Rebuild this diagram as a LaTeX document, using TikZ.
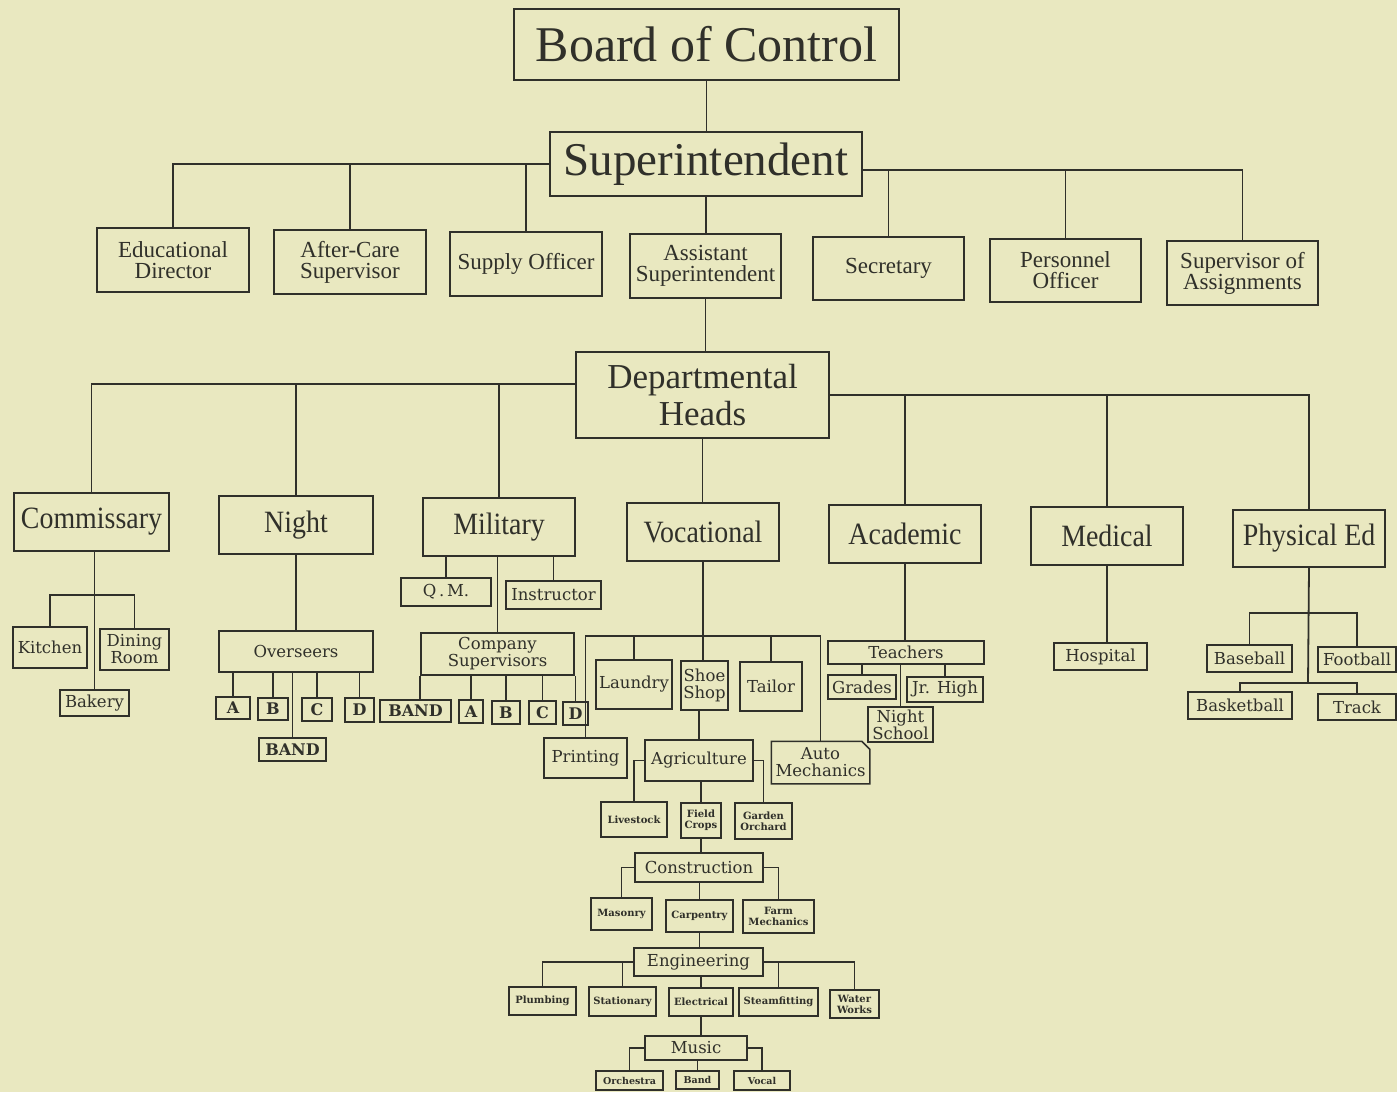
\documentclass[tikz,border=0pt]{standalone}
\usepackage{fontspec}
\setmainfont{Liberation Serif}
\newfontfamily\fwide[FakeStretch=0.9]{Liberation Serif}
\newfontfamily\fdj{DejaVu Serif}
\definecolor{paper}{RGB}{233,232,192}
\definecolor{ink}{RGB}{48,48,42}
\newcommand\bx[7][]{%
  \pgfmathsetmacro\bxw{#5-#3}\pgfmathsetmacro\bxh{#6-#4}%
  \node[box,#1,minimum width=\bxw pt,minimum height=\bxh pt] (#2) at ({(#3+#5)/2},{(#4+#6)/2}) {#7};}
\tikzset{
  box/.style={draw=ink,line width=1.5pt,inner sep=1pt,align=center,text=ink},
  ttop/.style={line width=2.8pt,font=\fontsize{50}{55}\selectfont},
  tsup/.style={line width=2.8pt,font=\fontsize{47}{50}\selectfont},
  tdept/.style={line width=2pt,font=\fontsize{35}{37}\selectfont},
  ltwo/.style={font=\fontsize{23}{21}\selectfont},
  lthree/.style={font=\fwide\fontsize{31}{33}\selectfont},
  lfour/.style={font=\fdj\fontsize{16.5}{17}\selectfont},
  lmid/.style={font=\fdj\fontsize{16.5}{17}\selectfont},
  lsmall/.style={font=\fdj\bfseries\fontsize{10}{11}\selectfont},
  ltiny/.style={font=\fdj\bfseries\fontsize{9.5}{10}\selectfont},
  llet/.style={font=\fdj\bfseries\fontsize{16}{17}\selectfont},
  conn/.style={draw=ink,line width=1.8pt}
}
\begin{document}
\begin{tikzpicture}[x=1pt,y=-1pt]
\fill[paper] (0,0) rectangle (1397,1092);
\useasboundingbox (0,0) rectangle (1397,1092);
% top levels
\bx[ttop]{boc}{514}{9}{899}{80}{Board of Control}
\bx[tsup]{sup}{550}{132}{862}{196}{Superintendent}
\bx[ltwo]{ed}{97}{228}{249}{292}{Educational\\Director}
\bx[ltwo]{ac}{274}{230}{426}{294}{After-Care\\Supervisor}
\bx[ltwo]{so}{450}{232}{602}{296}{Supply Officer}
\bx[ltwo]{as}{630}{234}{781}{298}{Assistant\\Superintendent}
\bx[ltwo]{sec}{813}{237}{964}{300}{Secretary}
\bx[ltwo]{po}{990}{239}{1141}{302}{Personnel\\Officer}
\bx[ltwo]{sa}{1167}{241}{1318}{305}{Supervisor of\\Assignments}
\bx[tdept]{dh}{576}{352}{829}{438}{Departmental\\Heads}
% departments
\bx[lthree]{com}{14}{493}{169}{551}{Commissary}
\bx[lthree]{nig}{219}{496}{373}{554}{Night}
\bx[lthree]{mil}{423}{498}{575}{556}{Military}
\bx[lthree]{voc}{627}{503}{779}{561}{Vocational}
\bx[lthree]{aca}{829}{505}{981}{563}{Academic}
\bx[lthree]{med}{1031}{507}{1183}{565}{Medical}
\bx[lthree]{phy}{1233}{510}{1385}{567}{Physical Ed}
% commissary
\bx[lfour]{kit}{13}{627}{87}{668}{Kitchen}
\bx[lfour]{din}{100}{629}{169}{670}{Dining\\Room}
\bx[lfour]{bak}{60}{690}{129}{716}{Bakery}
% night
\bx[lfour]{ovs}{219}{631}{373}{672}{Overseers}
\bx[llet]{nA}{216}{697}{250}{719}{A}
\bx[llet]{nB}{258}{698}{288}{720}{B}
\bx[llet]{nC}{302}{698}{332}{721}{C}
\bx[llet]{nD}{345}{698}{374}{722}{D}
\bx[llet]{nband}{259}{738}{326}{761}{BAND}
% military
\bx[lfour]{qm}{401}{578}{491}{606}{Q\,.\,M.}
\bx[lfour]{ins}{506}{581}{601}{609}{Instructor}
\bx[lfour]{cs}{421}{633}{574}{675}{Company\\Supervisors}
\bx[llet]{mband}{380}{700}{451}{722}{BAND}
\bx[llet]{mA}{459}{700}{483}{723}{A}
\bx[llet]{mB}{492}{701}{520}{724}{B}
\bx[llet]{mC}{529}{701}{556}{724}{C}
\bx[llet]{mD}{563}{702}{588}{725}{D}
% vocational
\bx[lfour]{laun}{596}{660}{672}{709}{Laundry}
\bx[lfour]{shoe}{681}{661}{728}{710}{Shoe\\Shop}
\bx[lfour]{tail}{740}{662}{802}{711}{Tailor}
\bx[lfour]{prin}{544}{738}{627}{778}{Printing}
\bx[lfour]{agr}{645}{740}{753}{781}{Agriculture}
\bx[lfour,draw=none]{auto}{772}{742}{869}{783}{Auto\\Mechanics}
\draw[ink,line width=1.5pt] (auto.south west) -- (auto.north west) -- ([xshift=-8pt]auto.north east) -- ([yshift=-8pt]auto.north east) -- (auto.south east) -- cycle;
\bx[lsmall]{live}{601}{802}{667}{837}{Livestock}
\bx[lsmall]{fc}{681}{803}{721}{838}{Field\\Crops}
\bx[lsmall]{go}{735}{803}{792}{839}{Garden\\Orchard}
\bx[lmid]{cons}{635}{853}{763}{882}{Construction}
\bx[lsmall]{mas}{591}{898}{652}{930}{Masonry}
\bx[lsmall]{carp}{666}{900}{733}{932}{Carpentry}
\bx[lsmall]{farm}{743}{900}{814}{933}{Farm\\Mechanics}
\bx[lmid]{eng}{634}{948}{763}{976}{Engineering}
\bx[lsmall]{plum}{509}{987}{576}{1015}{Plumbing}
\bx[lsmall]{stat}{589}{987}{656}{1016}{Stationary}
\bx[lsmall]{elec}{669}{988}{733}{1016}{Electrical}
\bx[lsmall]{steam}{739}{988}{818}{1016}{Steamfitting}
\bx[lsmall]{ww}{830}{990}{879}{1018}{Water\\Works}
\bx[lmid]{mus}{645}{1036}{747}{1060}{Music}
\bx[ltiny]{orch}{596}{1071}{663}{1090}{Orchestra}
\bx[ltiny]{bnd}{676}{1071}{719}{1089}{Band}
\bx[ltiny]{vocal}{734}{1071}{790}{1090}{Vocal}
% academic
\bx[lfour]{tea}{828}{641}{984}{664}{Teachers}
\bx[lfour]{gra}{828}{675}{896}{699}{Grades}
\bx[lfour]{jrh}{907}{677}{983}{702}{Jr. High}
\bx[lfour]{nsc}{868}{707}{933}{742}{Night\\School}
% medical
\bx[lfour]{hos}{1054}{643}{1147}{670}{Hospital}
% physical ed
\bx[lfour]{base}{1207}{645}{1292}{672}{Baseball}
\bx[lfour]{foot}{1318}{647}{1396}{672}{Football}
\bx[lfour]{bask}{1188}{692}{1292}{719}{Basketball}
\bx[lfour]{trk}{1318}{694}{1396}{720}{Track}
% helper coordinates
\coordinate (sr) at ([yshift=-6pt]sup.east);
\coordinate (dhl) at ([yshift=11pt]dh.west);
\coordinate (cb) at (94,595);
\coordinate (vb) at (701,636);
\coordinate (pa) at (1308,613);
\coordinate (pb) at (1308,683);
% connectors
\begin{scope}[conn]
\draw (boc.south) -- (boc.south |- sup.north);
\draw (sup.west) -| (ed.north);
\draw (ac.north) -- (ac.north |- sup.west);
\draw (so.north) -- (so.north |- sup.west);
\draw (sr) -| (sa.north);
\draw (sec.north) -- (sec.north |- sr);
\draw (po.north) -- (po.north |- sr);
\draw (sup.south) -- (sup.south |- as.north);
\draw (as.south) -- (as.south |- dh.north);
\draw (dhl) -| (com.north);
\draw (nig.north) -- (nig.north |- dhl);
\draw (mil.north) -- (mil.north |- dhl);
\draw (dh.east) -| (phy.north);
\draw (aca.north) -- (aca.north |- dh.east);
\draw (med.north) -- (med.north |- dh.east);
\draw (dh.south) -- (dh.south |- voc.north);
% commissary
\draw (bak.north) -- (bak.north |- com.south);
\draw (kit.north) |- (cb) -| (din.north);
% night
\draw (nig.south) -- (nig.south |- ovs.north);
\draw (nband.north) -- (nband.north |- ovs.south);
\draw (nA.north) -- (nA.north |- ovs.south);
\draw (nB.north) -- (nB.north |- ovs.south);
\draw (nC.north) -- (nC.north |- ovs.south);
\draw (nD.north) -- (nD.north |- ovs.south);
% military
\draw (cs.north) -- (cs.north |- mil.south);
\draw (qm.north) -- (qm.north |- mil.south);
\draw (ins.north) -- (ins.north |- mil.south);
\draw (mband.north -| cs.west) -- (cs.south west);
\draw (mA.north) -- (mA.north |- cs.south);
\draw (mB.north) -- (mB.north |- cs.south);
\draw (mC.north) -- (mC.north |- cs.south);
\draw (mD.north) -- (mD.north |- cs.south);
% vocational
\draw (voc.south) -- (voc.south |- shoe.north);
\draw (prin.north) |- (auto.north |- vb) -- (auto.north);
\draw (laun.north) -- (laun.north |- vb);
\draw (tail.north) -- (tail.north |- vb);
\draw (agr.north) -- (agr.north |- shoe.south);
\draw (agr.west) -| (live.north);
\draw (agr.east) -| (go.north);
\draw (fc.north) -- (fc.north |- agr.south);
\draw (fc.south) -- (fc.south |- cons.north);
\draw (cons.west) -| (mas.north);
\draw (cons.east) -| (farm.north);
\draw (carp.north) -- (carp.north |- cons.south);
\draw (carp.south) -- (carp.south |- eng.north);
\draw (eng.west) -| (plum.north);
\draw (stat.north) -- (stat.north |- eng.west);
\draw (eng.east) -| (ww.north);
\draw (steam.north) -- (steam.north |- eng.east);
\draw (elec.north) -- (elec.north |- eng.south);
\draw (elec.south) -- (elec.south |- mus.north);
\draw (mus.west) -| (orch.north);
\draw (mus.east) -| (vocal.north);
\draw (bnd.north) -- (bnd.north |- mus.south);
% academic
\draw (aca.south) -- (aca.south |- tea.north);
\draw (gra.north) -- (gra.north |- tea.south);
\draw (jrh.north) -- (jrh.north |- tea.south);
\draw (nsc.north) -- (nsc.north |- tea.south);
% medical
\draw (med.south) -- (med.south |- hos.north);
% physical ed
\draw (phy.south) -- (pb);
\draw (base.north) |- (pa) -| (foot.north);
\draw (bask.north) |- (pb) -| (trk.north);
\end{scope}
\end{tikzpicture}
\end{document}
